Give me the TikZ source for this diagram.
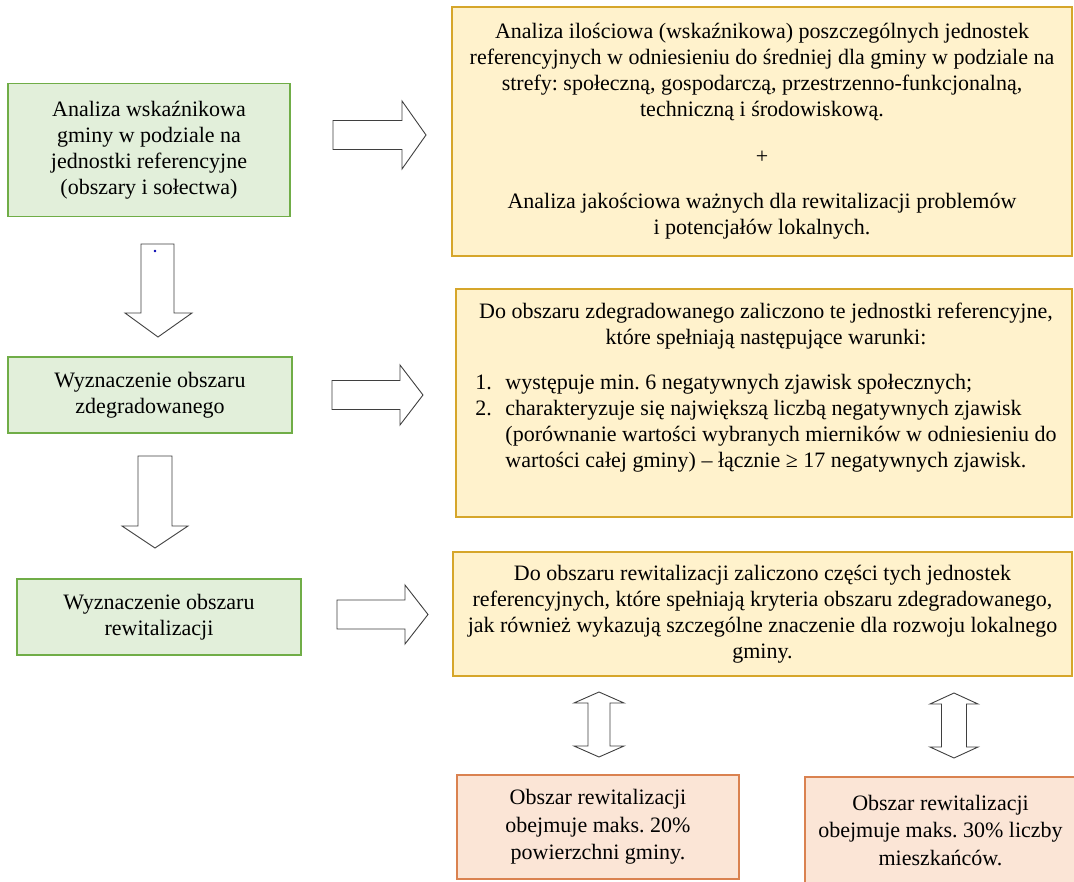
\documentclass[tikz,border=0pt]{standalone}
\usepackage{fontspec}
\setmainfont{Liberation Serif}
\frenchspacing
\definecolor{greenfill}{HTML}{E2EFDA}
\definecolor{greenline}{HTML}{70AD47}
\definecolor{yellowfill}{HTML}{FFF2CC}
\definecolor{yellowline}{HTML}{D6A62A}
\definecolor{orangefill}{HTML}{FBE5D6}
\definecolor{orangeline}{HTML}{DA8250}
\definecolor{arrowline}{HTML}{3F3F3F}
\tikzset{
	greenbox/.style={rectangle, draw=greenline, fill=greenfill, line width=1.2pt, align=center, inner sep=0pt},
	yellowbox/.style={rectangle, draw=yellowline, fill=yellowfill, line width=1.2pt, align=center, inner sep=0pt},
	orangebox/.style={rectangle, draw=orangeline, fill=orangefill, line width=1.2pt, align=center, inner sep=0pt,
		font=\fontsize{22}{27.5}\selectfont},
	blockarrow/.style={draw=arrowline, fill=white, line width=0.9pt, line join=miter}
}

\begin{document}
\begin{tikzpicture}[x=1pt, y=-1pt, font=\fontsize{22}{26}\selectfont]
\useasboundingbox (0,0) rectangle (1074,882);

\def\gw{284}
\def\gh{76}

% left column
\node[greenbox, minimum width=282, minimum height=133] (analiza) at (149, 150)
	{Analiza wskaźnikowa\\gminy w podziale na\\jednostki referencyjne\\(obszary i sołectwa)};
\node[greenbox, minimum width=\gw, minimum height=\gh] (zdeg) at (150, 395)
	{Wyznaczenie obszaru\\zdegradowanego};
\node[greenbox, minimum width=\gw, minimum height=\gh] (rewit) at (159, 617)
	{Wyznaczenie obszaru\\rewitalizacji};

% right column
\node[yellowbox, minimum width=620, minimum height=249] (ilosc) at (762, 131.5)
	{Analiza ilościowa (wskaźnikowa) poszczególnych jednostek\\
	referencyjnych w odniesieniu do średniej dla gminy w podziale na\\
	strefy: społeczną, gospodarczą, przestrzenno-funkcjonalną,\\
	techniczną i środowiskową.\\[21pt]
	+\\[19pt]
	Analiza jakościowa ważnych dla rewitalizacji problemów\\
	i potencjałów lokalnych.};

\node[yellowbox, minimum width=616, minimum height=228] (warunki) at (764, 403) {};
\node[align=center, inner sep=0pt, anchor=north] (warunkitext) at (766, 303)
	{Do obszaru zdegradowanego zaliczono te jednostki referencyjne,\\
	które spełniają następujące warunki:\\[19pt]
	\begin{tabular}[t]{@{}p{30pt}@{}l@{}}
	1. & występuje min. 6 negatywnych zjawisk społecznych;\\
	2. & charakteryzuje się największą liczbą negatywnych zjawisk\\
	   & (porównanie wartości wybranych mierników w odniesieniu do\\
	   & wartości całej gminy) – łącznie ≥ 17 negatywnych zjawisk.
	\end{tabular}};

\node[yellowbox, minimum width=619, minimum height=124] (kryteria) at (762.5, 614)
	{Do obszaru rewitalizacji zaliczono części tych jednostek\\
	referencyjnych, które spełniają kryteria obszaru zdegradowanego,\\
	jak również wykazują szczególne znaczenie dla rozwoju lokalnego\\
	gminy.};

\node[orangebox, minimum width=282, minimum height=104] (powierzchnia) at (598, 827)
	{Obszar rewitalizacji\\obejmuje maks. 20\%\\powierzchni gminy.};
\node[orangebox, minimum width=271, minimum height=107] (mieszkancy) at (940.5, 830.5)
	{Obszar rewitalizacji\\obejmuje maks. 30\% liczby\\mieszkańców.};

% block arrows to the right
\draw[blockarrow] (333,120.5) -- (402,120.5) -- (402,101) -- (426,135) -- (402,169) -- (402,149.5) -- (333,149.5) -- cycle;
\draw[blockarrow] (332,380.5) -- (400,380.5) -- (400,365) -- (423,395) -- (400,425) -- (400,409.5) -- (332,409.5) -- cycle;
\draw[blockarrow] (337,600) -- (405,600) -- (405,585) -- (428,614.5) -- (405,644) -- (405,629) -- (337,629) -- cycle;

% block arrows down
\draw[blockarrow] (141,244) -- (174,244) -- (174,313) -- (192,313) -- (158,337) -- (125,313) -- (141,313) -- cycle;
\draw[blockarrow] (138,456) -- (172,456) -- (172,526) -- (188,526) -- (155,548) -- (122,526) -- (138,526) -- cycle;
\fill[blue!70!black] (155,251) circle (1.3pt);

% double arrows
\draw[blockarrow] (599,692) -- (624,703) -- (610,703) -- (610,746) -- (624,746) -- (599,757)
	-- (574,746) -- (588,746) -- (588,703) -- (574,703) -- cycle;
\draw[blockarrow] (954,693) -- (978,704) -- (966.5,704) -- (966.5,747) -- (978,747) -- (954,758)
	-- (930,747) -- (941.5,747) -- (941.5,704) -- (930,704) -- cycle;
\end{tikzpicture}
\end{document}
